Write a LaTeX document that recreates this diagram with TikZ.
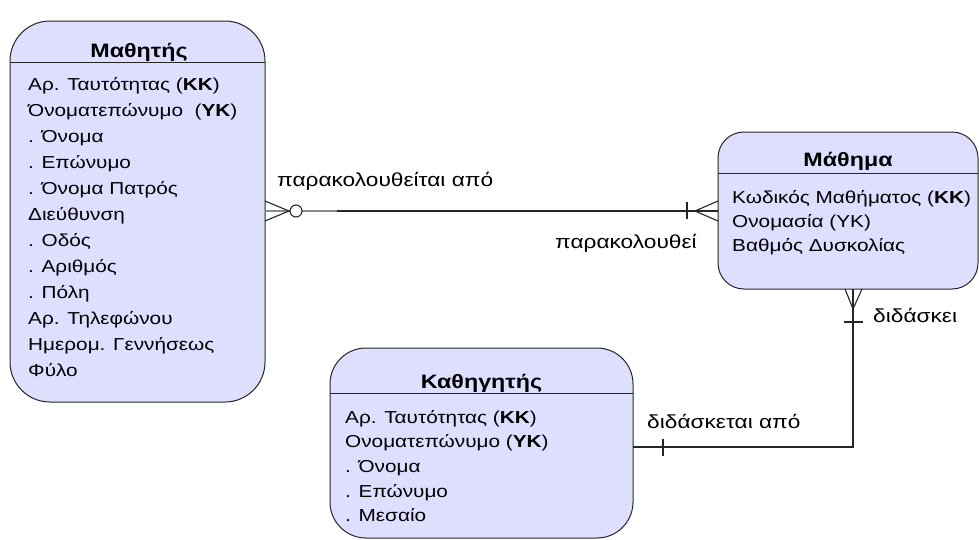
\documentclass[tikz,border=0pt]{standalone}
\usepackage{fontspec}
\setmainfont{Liberation Sans}
\newfontfamily\erfont[FakeStretch=1.2]{Liberation Sans}
\begin{document}
\begin{tikzpicture}[x=1pt,y=-1pt,
  entity/.style={draw=black!85, line width=1pt, fill=entfill, inner sep=0pt, outer sep=0pt, anchor=north west},
  ttl/.style={font=\erfont\fontsize{19.4}{23}\selectfont\bfseries, anchor=base, inner sep=0pt},
  attr/.style={font=\erfont\fontsize{17.3}{21}\selectfont, anchor=base west, inner sep=0pt},
  rel/.style={font=\erfont\fontsize{18.9}{22}\selectfont, anchor=base west, inner sep=0pt},
  conn/.style={draw=black!85, line width=1.1pt},
  optline/.style={draw=black!45, line width=1.1pt}]
\definecolor{entfill}{RGB}{222,222,255}
\useasboundingbox (0,0) rectangle (979,539);

% entities
\node[entity, minimum width=255pt, minimum height=381pt, rounded corners=40pt] (mathitis) at (10,21) {};
\node[entity, minimum width=260pt, minimum height=157pt, rounded corners=26pt] (mathima) at (718,132) {};
\node[entity, minimum width=303pt, minimum height=190pt, rounded corners=36pt] (kathigitis) at (330,348) {};

% header separators
\draw[conn, line width=1pt] (mathitis.west |- 0,62) -- (mathitis.east |- 0,62);
\draw[conn, line width=1pt] (mathima.west |- 0,173) -- (mathima.east |- 0,173);
\draw[conn, line width=1pt] (kathigitis.west |- 0,393) -- (kathigitis.east |- 0,393);

% titles
\node[ttl] (tmathitis) at (139,57) {Μαθητής};
\node[ttl] (tmathima) at (848,166) {Μάθημα};
\node[ttl] (tkathigitis) at (481.5,388) {Καθηγητής};

% attributes
\foreach \t [count=\i from 0] in {
  {Αρ. Ταυτότητας (\textbf{ΚΚ})},
  {Όνοματεπώνυμο\ \ (\textbf{ΥΚ})},
  {. Όνομα},
  {. Επώνυμο},
  {. Όνομα Πατρός},
  {Διεύθυνση},
  {. Οδός},
  {. Αριθμός},
  {. Πόλη},
  {Αρ. Τηλεφώνου},
  {Ημερομ. Γεννήσεως},
  {Φύλο}}
  \node[attr] (ma\i) at (28, 90+26*\i) {\t};

\foreach \t [count=\i from 0] in {
  {Κωδικός Μαθήματος (\textbf{ΚΚ})},
  {Ονομασία (ΥΚ)},
  {Βαθμός Δυσκολίας}}
  \node[attr] (mt\i) at (732, 203+24*\i) {\t};

\foreach \t [count=\i from 0] in {
  {Αρ. Ταυτότητας (\textbf{ΚΚ})},
  {Ονοματεπώνυμο (\textbf{ΥΚ})},
  {. Όνομα},
  {. Επώνυμο},
  {. Μεσαίο}}
  \node[attr] (ka\i) at (345, 423+24.7*\i) {\t};

% relationship: Μαθητής -- Μάθημα
\coordinate (a1) at (mathitis.east |- 0,211);
\coordinate (a2) at (mathima.west |- 0,211);
\coordinate (aopt) at (337,211);
\draw[optline] (a1) -- (aopt);
\draw[conn] (aopt) -- (a2);
% zero-or-many at Μαθητής
\draw[conn] (265,201) -- (289,211) -- (265,221);
\draw[conn, fill=white] (296,211) circle (6pt);
% one-or-many at Μάθημα
\draw[conn] (718,201) -- (695,211) -- (718,221);
\draw[conn] (687,202) -- (687,219);

% relationship: Μάθημα -- Καθηγητής
\coordinate (b1) at (853,289);
\coordinate (bc) at (853,447);
\coordinate (b2) at (kathigitis.east |- bc);
\draw[conn] (b1) -- (bc) -- (b2);
% one-or-many at Μάθημα
\draw[conn] (845,289) -- (853,309) -- (862,289);
\draw[conn] (844,322) -- (863,322);
% one at Καθηγητής
\draw[conn] (663,439) -- (663,456);

% relationship labels
\node[rel] (l1) at (277,186) {παρακολουθείται από};
\node[rel] (l2) at (555,248) {παρακολουθεί};
\node[rel] (l3) at (873,322) {διδάσκει};
\node[rel] (l4) at (647,428) {διδάσκεται από};
\end{tikzpicture}
\end{document}
